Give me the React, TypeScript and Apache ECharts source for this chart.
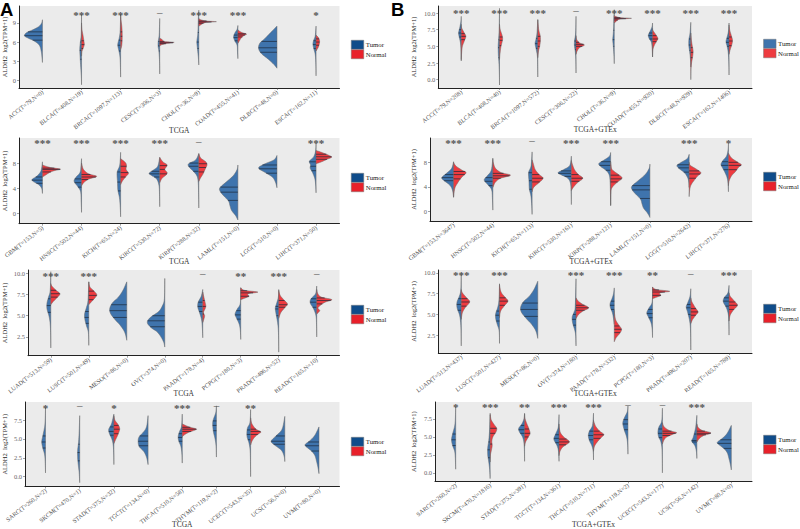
import React, { useEffect, useRef } from "react";
import * as echarts from "echarts";

type Pt = [number, number];
type Violin = { q: number[]; v: Pt[] } | null;

const FONT = "Liberation Serif";
const TUMOR_FILL = "#3f74ad";
const NORMAL_FILL = "#ee3b40";

// ---------- A1 TCGA ----------
const a1Cats = ["ACC(T=79,N=0)", "BLCA(T=408,N=19)", "BRCA(T=1097,N=113)", "CESC(T=306,N=3)", "CHOL(T=36,N=9)", "COAD(T=455,N=41)", "DLBC(T=48,N=0)", "ESCA(T=162,N=11)"];
const a1Sig = ["", "***", "***", "–", "***", "***", "", "*"];
const a1Ticks = ["0", "3", "6", "9"];
const a1T: Violin[] = [
  { q: [7.6, 7.0, 6.3], v: [[2.8, 0], [3.5, 1], [4.5, 3], [5.5, 8], [6.2, 22], [6.6, 36], [7, 46], [7.5, 40], [8, 22], [8.5, 8], [9, 2], [9.5, 0]] },
  { q: [6, 4.7, 3.3], v: [[-0.7, 0], [0.5, 0.5], [1.5, 1.5], [3, 3], [4, 4], [5, 4.5], [6, 3], [7, 1], [8.5, 0.4], [10.4, 0]] },
  { q: [6.3, 5.5, 4.6], v: [[0.5, 0], [2, 0.5], [3.5, 1.5], [4.5, 4], [5.3, 7], [5.8, 7], [6.5, 4], [7.5, 1.5], [9, 0.5], [10.4, 0]] },
  { q: [6.1, 5.4, 4.6], v: [[1, 0], [3, 0.5], [4.5, 2], [5.3, 4], [6, 4], [7, 1.5], [8.5, 0.5], [9.7, 0]] },
  { q: [7.5, 6, 5], v: [[2.4, 0], [3.5, 1], [5, 3.5], [6, 5], [7, 3], [8, 2], [9, 1.5], [10, 1], [11, 0]] },
  { q: [7.1, 6.7, 6.2], v: [[3.4, 0], [4.5, 1], [5.5, 2], [6.2, 8], [6.8, 11], [7.4, 8], [8, 2], [8.6, 0]] },
  { q: [6.1, 5.1, 4.4], v: [[1.9, 0], [2.5, 8], [3.4, 24], [4.2, 40], [5, 47], [5.8, 44], [6.5, 32], [7.5, 16], [8.5, 0]] },
  { q: [6.2, 5.6, 5], v: [[0.7, 0], [2.5, 0.5], [4, 2], [5, 6], [5.7, 8], [6.3, 6], [7, 2], [8.5, 0]] },
];
const a1N: Violin[] = [
  null,
  { q: [6.2, 5.6, 5], v: [[3.8, 0], [4.5, 1], [5, 4], [5.6, 7], [6.2, 6], [7, 4], [8, 1], [9, 0]] },
  { q: [7.6, 6.9, 6.2], v: [[4.8, 0], [5.5, 3], [6.5, 4], [7.5, 4], [8.5, 3], [9.5, 1], [10.4, 0]] },
  { q: [6.1, 5.9, 5.75], v: [[5.4, 0], [5.6, 6], [5.8, 20], [5.95, 37], [6.1, 12], [6.4, 6], [6.6, 0]] },
  { q: [9.3, 9.15, 8.95], v: [[8.5, 0], [8.7, 5], [8.9, 10], [9.1, 20], [9.2, 45], [9.3, 20], [9.5, 5], [9.7, 0]] },
  { q: [7.3, 7.1, 6.8], v: [[5.8, 0], [6.2, 4], [6.6, 8], [7, 15], [7.25, 22], [7.5, 10], [7.9, 0]] },
  null,
  { q: [6.5, 6, 5.5], v: [[4.6, 0], [5.1, 5], [5.6, 8], [6.2, 9], [6.7, 6], [7.1, 0]] },
];

// ---------- A2 TCGA ----------
const a2Cats = ["GBM(T=153,N=5)", "HNSC(T=502,N=44)", "KICH(T=65,N=24)", "KIRC(T=530,N=72)", "KIRP(T=288,N=32)", "LAML(T=151,N=0)", "LGG(T=510,N=0)", "LIHC(T=371,N=50)"];
const a2Sig = ["***", "***", "***", "***", "–", "", "", "***"];
const a2Ticks = ["0", "4", "8"];
const a2T: Violin[] = [
  { q: [5.8, 5.3, 4.8], v: [[3.2, 0], [4, 2], [4.6, 10], [5.3, 27], [5.9, 15], [6.6, 5], [7.4, 1.5], [8.2, 0]] },
  { q: [5.5, 4.9, 4.2], v: [[0.2, 0], [2, 1], [3.5, 2.5], [4.3, 10], [5.1, 19], [5.7, 15], [6.5, 4], [7.5, 1.5], [8.7, 0]] },
  { q: [6.6, 5, 3.6], v: [[-0.5, 0], [1, 1], [2.5, 3], [3.7, 7], [5, 8], [6.5, 9], [7.5, 3], [8.5, 1], [9.7, 0]] },
  { q: [6.7, 6.3, 5.8], v: [[1.1, 0], [3, 0.5], [4.5, 2], [5.5, 8], [6, 20], [6.4, 27], [6.9, 16], [7.5, 5], [8.9, 0]] },
  { q: [8, 7.5, 6.7], v: [[0.9, 0], [3, 0.5], [5, 1.5], [6, 5], [6.7, 14], [7.4, 25], [7.9, 26], [8.5, 8], [9.5, 0]] },
  { q: [4.2, 3.4, 2.1], v: [[-1, 0], [-0.3, 6], [0.5, 16], [1.2, 20], [2, 24], [2.8, 36], [3.5, 45], [4.1, 46], [5, 30], [6, 12], [7, 2], [7.7, 0]] },
  { q: [7.7, 7.1, 6.4], v: [[4.1, 0], [5, 4], [5.8, 12], [6.5, 30], [7.2, 47], [7.8, 34], [8.5, 8], [9.2, 0]] },
  { q: [8.2, 7.5, 6.8], v: [[3.3, 0], [4.5, 1], [5.5, 3], [6.5, 9], [7.2, 15], [7.7, 14], [8.3, 17], [9, 6], [10, 1], [11.2, 0]] },
];
const a2N: Violin[] = [
  { q: [7.2, 7, 6.6], v: [[5.8, 0], [6.1, 8], [6.5, 18], [6.8, 30], [7.05, 46], [7.3, 20], [7.7, 0]] },
  { q: [6.2, 5.8, 5.4], v: [[4.4, 0], [5, 7], [5.5, 20], [5.9, 39], [6.3, 18], [7, 5], [8, 0]] },
  { q: [7.5, 6.5, 5.8], v: [[4.6, 0], [5.2, 5], [5.9, 14], [6.4, 20], [7, 14], [7.6, 15], [8.1, 12], [8.7, 0]] },
  { q: [7.6, 7, 6.3], v: [[4.9, 0], [5.6, 6], [6.1, 16], [6.5, 19], [7, 13], [7.7, 19], [8.2, 8], [8.9, 0]] },
  { q: [7.9, 7.3, 6.6], v: [[5.1, 0], [5.7, 5], [6.3, 11], [7, 16], [7.7, 21], [8.2, 18], [8.8, 5], [9.5, 0]] },
  null,
  null,
  { q: [9.4, 9, 8.6], v: [[7.9, 0], [8.2, 14], [8.6, 28], [8.95, 40], [9.3, 30], [9.7, 14], [10, 0]] },
];

// ---------- A3 TCGA ----------
const a3Cats = ["LUAD(T=513,N=59)", "LUSC(T=501,N=49)", "MESO(T=86,N=0)", "OV(T=374,N=0)", "PAAD(T=178,N=4)", "PCPG(T=180,N=3)", "PRAD(T=496,N=52)", "READ(T=165,N=10)"];
const a3Sig = ["***", "***", "", "", "–", "**", "***", "–"];
const a3Ticks = ["2.5", "5.0", "7.5", "10.0"];
const a3T: Violin[] = [
  { q: [7, 6.2, 5.4], v: [[1.2, 0], [3, 0.5], [4.2, 2], [5, 5], [5.8, 10], [6.5, 10], [7.2, 6], [8, 1.5], [10.2, 0]] },
  { q: [5.5, 4.8, 4.1], v: [[1.5, 0], [3, 1], [3.8, 6], [4.5, 10], [5.2, 11], [6, 6], [6.8, 2], [9, 0]] },
  { q: [6.3, 5.6, 4.8], v: [[2.1, 0], [3, 5], [3.8, 16], [4.5, 30], [5.2, 42], [5.8, 45], [6.5, 38], [7.2, 22], [8, 10], [9, 0]] },
  { q: [5, 4.4, 3.7], v: [[1.3, 0], [2, 4], [3, 18], [3.6, 36], [4.2, 46], [4.8, 38], [5.5, 16], [6.2, 6], [7, 1], [9.4, 0]] },
  { q: [6.6, 6.1, 5.5], v: [[2.4, 0], [3.5, 1], [4.5, 3], [5.3, 8], [6, 13], [6.6, 12], [7.3, 4], [8.1, 0]] },
  { q: [5.6, 5.1, 4.6], v: [[2.2, 0], [3.2, 1], [4, 4], [4.7, 11], [5.2, 15], [5.8, 9], [6.5, 1], [8.3, 0]] },
  { q: [6.1, 5.8, 5], v: [[0.7, 0], [3, 0.7], [4.2, 3], [5.2, 7], [5.9, 9], [6.4, 6], [7.2, 1], [8.1, 0]] },
  { q: [7, 6.6, 6], v: [[2.5, 0], [4, 0.5], [5, 2], [5.8, 8], [6.5, 17], [7, 15], [7.6, 3], [8.5, 0]] },
];
const a3N: Violin[] = [
  { q: [8, 7.6, 7.2], v: [[6.3, 0], [6.7, 7], [7.2, 18], [7.6, 24], [8, 14], [8.5, 3], [8.8, 0]] },
  { q: [7.9, 7.4, 6.9], v: [[6.3, 0], [6.7, 8], [7.2, 18], [7.5, 21], [7.9, 14], [8.4, 3], [9, 0]] },
  null,
  null,
  { q: [6.8, 6.1, 5.2], v: [[4.2, 0], [4.6, 3], [5, 5], [5.4, 2], [5.9, 7], [6.2, 8], [6.8, 5], [7.8, 0]] },
  { q: [7.95, 7.7, 7.3], v: [[6.9, 0], [7.1, 12], [7.3, 22], [7.5, 18], [7.65, 24], [7.8, 45], [8, 10], [8.3, 0]] },
  { q: [6.8, 6.3, 6], v: [[4.7, 0], [5.4, 6], [6, 17], [6.4, 23], [6.9, 13], [7.4, 4], [8, 0]] },
  { q: [7.1, 6.8, 6.4], v: [[5.2, 0], [5.6, 8], [5.9, 3], [6.2, 9], [6.6, 22], [6.9, 40], [7.2, 12], [7.6, 3], [8.1, 0]] },
];

// ---------- A4 TCGA ----------
const a4Cats = ["SARC(T=260,N=2)", "SKCM(T=470,N=1)", "STAD(T=375,N=32)", "TGCT(T=134,N=0)", "THCA(T=510,N=58)", "THYM(T=119,N=2)", "UCEC(T=543,N=35)", "UCS(T=56,N=0)", "UVM(T=80,N=0)"];
const a4Sig = ["*", "–", "*", "", "***", "–", "**", "", ""];
const a4Ticks = ["0.0", "2.5", "5.0", "7.5"];
const a4T: Violin[] = [
  { q: [5.4, 4.6, 3.8], v: [[0.5, 0], [2, 1], [3, 3], [3.8, 8], [4.6, 11], [5.4, 8], [6.5, 3], [7.5, 1], [9.2, 0]] },
  { q: [4.3, 3.2, 2.1], v: [[-0.8, 0], [0.5, 1.5], [1.5, 4], [2.5, 6], [3.5, 6], [4.5, 3.5], [6, 1.5], [8.1, 0]] },
  { q: [6.6, 6, 5.5], v: [[1.6, 0], [3, 0.5], [4.2, 2], [5, 6], [5.7, 13], [6.3, 15], [7, 7], [8.3, 0]] },
  { q: [5.4, 4.7, 4.1], v: [[1.6, 0], [2.5, 4], [3.3, 12], [4, 26], [4.7, 29], [5.3, 26], [6, 12], [6.7, 4], [8.1, 0]] },
  { q: [5.7, 5.2, 4.7], v: [[1.8, 0], [3, 1], [4, 4], [4.7, 10], [5.3, 12], [6, 8], [6.7, 2], [8.3, 0]] },
  { q: [7.4, 6.8, 6.1], v: [[2.6, 0], [4, 1], [5, 4], [6, 9], [7, 11], [7.6, 9], [8.5, 2], [9.4, 0]] },
  { q: [6.2, 5.6, 4.9], v: [[0, 0], [2, 0.5], [3.5, 1.5], [4.5, 5], [5.2, 10], [5.8, 11], [6.5, 9], [7.2, 2], [8.9, 0]] },
  { q: [5.4, 4.7, 4.3], v: [[2, 0], [2.7, 2], [3.5, 10], [4.2, 30], [4.7, 40], [5.4, 26], [6.3, 8], [8, 0]] },
  { q: [4.6, 4.1, 3.4], v: [[0.4, 0], [1.2, 3], [2, 7], [2.8, 12], [3.4, 22], [4, 38], [4.3, 40], [4.8, 26], [5.5, 12], [6.6, 0]] },
];
const a4N: Violin[] = [
  null,
  null,
  { q: [6.8, 6.3, 5.7], v: [[4.4, 0], [5, 6], [5.7, 13], [6.4, 17], [7, 11], [7.5, 3], [8.1, 0]] },
  null,
  { q: [6.55, 6.3, 6], v: [[5.3, 0], [5.6, 8], [5.9, 20], [6.2, 38], [6.35, 40], [6.6, 20], [7, 0]] },
  null,
  { q: [6.3, 6, 5.6], v: [[4.2, 0], [4.8, 5], [5.3, 13], [5.7, 24], [5.95, 30], [6.3, 16], [7, 4], [7.8, 0]] },
  null,
  null,
];

// ---------- B1 TCGA+GTEx ----------
const b1Cats = ["ACC(T=79,N=208)", "BLCA(T=408,N=40)", "BRCA(T=1097,N=572)", "CESC(T=306,N=22)", "CHOL(T=36,N=9)", "COAD(T=455,N=920)", "DLBC(T=48,N=929)", "ESCA(T=162,N=1406)"];
const b1Sig = ["***", "***", "***", "–", "***", "***", "***", "***"];
const b1Ticks = ["0.0", "2.5", "5.0", "7.5", "10.0"];
const b1T: Violin[] = [
  { q: [7.5, 7, 6.4], v: [[3, 0], [4.5, 0.5], [5.5, 2], [6.3, 5], [7, 7], [7.8, 4], [8.7, 1], [9.5, 0]] },
  { q: [6, 4.8, 3.3], v: [[-0.8, 0], [1, 0.5], [2.5, 1.5], [3.7, 3], [5, 3.5], [6, 2.5], [7.5, 1], [10.7, 0]] },
  { q: [6.2, 5.4, 4.7], v: [[0.4, 0], [2, 0.4], [3.5, 1], [4.5, 4], [5.4, 7], [6, 5], [7, 2], [9, 0]] },
  { q: [5.8, 5.2, 4.5], v: [[1, 0], [3, 0.5], [4.2, 2], [5, 4], [5.8, 4], [7, 1], [9.5, 0]] },
  { q: [7.4, 6, 5], v: [[2.4, 0], [3.5, 0.7], [5, 2.5], [6, 4], [7, 2.5], [8.2, 1.5], [9.3, 1], [10.5, 0]] },
  { q: [7, 6.6, 6.1], v: [[3.4, 0], [4.7, 1], [5.6, 3], [6.2, 9], [6.7, 11], [7.2, 7], [7.9, 1.5], [8.5, 0]] },
  { q: [6.1, 5.2, 4.4], v: [[1.9, 0], [3, 0.8], [4.2, 3], [5, 5], [6, 5], [7, 2], [8.6, 0]] },
  { q: [6.2, 5.6, 5], v: [[0.7, 0], [2.5, 0.5], [4, 2], [5, 5], [5.7, 8], [6.4, 5], [7.3, 1.5], [8.5, 0]] },
];
const b1N: Violin[] = [
  { q: [6.9, 6.5, 6], v: [[2.8, 0], [4, 1], [5, 3], [5.8, 8], [6.5, 12], [7.1, 7], [7.8, 1], [8.3, 0]] },
  { q: [6.4, 5.9, 5.1], v: [[3, 0], [4, 1.5], [5, 4], [6, 8], [6.6, 7], [7.5, 2], [8.3, 0]] },
  { q: [6.5, 5.8, 5], v: [[3.3, 0], [4.3, 2], [5, 5], [6, 7], [6.7, 6], [7.5, 2.5], [9, 0]] },
  { q: [5.6, 5.3, 5], v: [[3.8, 0], [4.3, 3], [4.8, 9], [5.2, 22], [5.5, 10], [6, 2], [6.6, 0]] },
  { q: [9.3, 9.15, 8.95], v: [[8.5, 0], [8.7, 4], [8.9, 8], [9.1, 16], [9.2, 45], [9.3, 16], [9.5, 3], [9.6, 0]] },
  { q: [6.6, 6.1, 5.7], v: [[3.4, 0], [4.5, 1], [5.2, 5], [5.8, 11], [6.2, 14], [6.8, 8], [7.4, 1], [7.7, 0]] },
  { q: [4.8, 4.1, 3.3], v: [[0, 0], [1.5, 0.5], [2.5, 2], [3.5, 5], [4.3, 6], [5.2, 3.5], [6, 1.5], [7, 0]] },
  { q: [6.4, 5.8, 5.1], v: [[3.8, 0], [4.5, 3], [5.2, 7], [5.9, 9], [6.6, 6], [7.4, 2], [8.2, 0]] },
];

// ---------- B2 TCGA+GTEx ----------
const b2Cats = ["GBM(T=153,N=3647)", "HNSC(T=502,N=44)", "KICH(T=65,N=113)", "KIRC(T=530,N=161)", "KIRP(T=288,N=121)", "LAML(T=151,N=0)", "LGG(T=510,N=2642)", "LIHC(T=371,N=276)"];
const b2Sig = ["***", "***", "–", "***", "***", "", "***", "*"];
const b2Ticks = ["0", "4", "8"];
const b2T: Violin[] = [
  { q: [6, 5.5, 5], v: [[2.3, 0], [3.5, 3], [4.3, 10], [5, 24], [5.5, 30], [6.2, 18], [7, 5], [8.1, 0]] },
  { q: [5.5, 4.9, 4.2], v: [[0.2, 0], [2, 1], [3.5, 3], [4.3, 12], [5.1, 22], [5.8, 14], [6.7, 4], [8.7, 0]] },
  { q: [6.3, 5, 3.6], v: [[-0.5, 0], [1, 1], [2.5, 3], [3.6, 7], [5, 8], [6.3, 9], [7.3, 3], [8.5, 1], [9.7, 0]] },
  { q: [6.6, 6.2, 5.7], v: [[1.1, 0], [3, 0.5], [4.5, 2], [5.4, 9], [5.9, 24], [6.3, 34], [6.8, 20], [7.5, 4], [9, 0]] },
  { q: [8.1, 7.5, 6.7], v: [[0.9, 0], [3, 0.5], [5, 1.5], [6, 4], [6.7, 12], [7.3, 25], [7.8, 30], [8.4, 16], [9, 3], [9.6, 0]] },
  { q: [4.2, 3.5, 2.1], v: [[-1, 0], [-0.3, 6], [0.5, 16], [1.2, 20], [2, 24], [2.8, 36], [3.5, 45], [4.1, 46], [5, 30], [6, 12], [7, 2], [7.7, 0]] },
  { q: [7.6, 7.1, 6.4], v: [[3.9, 0], [4.8, 1], [5.5, 4], [6.3, 12], [7, 26], [7.5, 31], [8, 20], [8.6, 5], [9.3, 0]] },
  { q: [8.1, 7.5, 6.8], v: [[3.2, 0], [4.5, 1], [5.5, 3.5], [6.5, 10], [7.2, 16], [7.7, 19], [8.3, 14], [9, 5], [10, 1], [11, 0]] },
];
const b2N: Violin[] = [
  { q: [6.5, 6, 5.3], v: [[2.3, 0], [3.7, 3], [4.6, 10], [5.5, 20], [6.3, 32], [6.7, 22], [7.4, 6], [8, 0]] },
  { q: [6.2, 5.8, 5.4], v: [[3.9, 0], [4.8, 7], [5.4, 20], [5.9, 45], [6.3, 22], [7, 7], [8, 1], [8.5, 0]] },
  { q: [6, 5.4, 4.8], v: [[3.2, 0], [3.9, 4], [4.6, 16], [5.4, 28], [6, 18], [6.8, 8], [7.8, 3], [8.4, 0]] },
  { q: [6, 5.4, 4.9], v: [[3.4, 0], [4, 6], [4.7, 16], [5.4, 29], [6, 18], [6.8, 8], [7.8, 2], [8.3, 0]] },
  { q: [5.9, 5.3, 4.8], v: [[1, 0], [3, 0.7], [3.8, 3], [4.6, 14], [5.4, 29], [6, 20], [6.8, 4], [7.6, 1], [8.1, 0]] },
  null,
  { q: [6.6, 6.1, 5.4], v: [[2.4, 0], [3.3, 1], [4.2, 4], [5, 12], [5.8, 22], [6.3, 30], [6.9, 18], [7.5, 3], [8, 0]] },
  { q: [8, 7.5, 6.8], v: [[4.2, 0], [5, 2], [5.8, 8], [6.5, 18], [7.2, 26], [7.6, 33], [8, 24], [8.7, 8], [9.5, 0]] },
];

// ---------- B3 TCGA+GTEx ----------
const b3Cats = ["LUAD(T=513,N=437)", "LUSC(T=501,N=427)", "MESO(T=86,N=0)", "OV(T=374,N=180)", "PAAD(T=178,N=332)", "PCPG(T=180,N=3)", "PRAD(T=496,N=207)", "READ(T=165,N=789)"];
const b3Sig = ["***", "***", "", "***", "***", "**", "–", "***"];
const b3Ticks = ["2.5", "5.0", "7.5", "10.0"];
const b3T: Violin[] = [
  { q: [6.9, 6.2, 5.5], v: [[1.2, 0], [3, 0.5], [4.2, 2], [5, 5], [5.8, 11], [6.5, 11], [7.2, 5], [8, 1], [10, 0]] },
  { q: [5.4, 4.9, 4.2], v: [[1.5, 0], [3, 1], [3.8, 6], [4.5, 10], [5.1, 10], [5.8, 5], [6.7, 1.5], [8.7, 0]] },
  { q: [6.37, 5.6, 4.76], v: [[2.1, 0], [3, 5], [3.8, 16], [4.5, 30], [5.2, 42], [5.8, 45], [6.5, 38], [7.2, 22], [8, 10], [9, 0]] },
  { q: [5, 4.4, 3.7], v: [[1.2, 0], [2.5, 1], [3.2, 4], [4, 9], [4.7, 10], [5.3, 5], [6, 2], [9.3, 0]] },
  { q: [6.6, 6.1, 5.6], v: [[3.8, 0], [4.5, 2], [5.2, 5], [5.8, 10], [6.3, 11], [6.9, 6], [7.5, 2], [8.2, 0]] },
  { q: [5.6, 5.1, 4.6], v: [[2.2, 0], [3.2, 1], [4, 4], [4.7, 11], [5.2, 15], [5.8, 9], [6.5, 1], [8.3, 0]] },
  { q: [6.2, 5.8, 5], v: [[0.7, 0], [3, 0.7], [4.2, 3], [5.2, 8], [5.9, 12], [6.4, 8], [7.2, 2], [8.1, 0]] },
  { q: [7, 6.6, 6], v: [[2.5, 0], [4, 0.5], [5, 2], [5.8, 7], [6.5, 15], [7, 13], [7.6, 3], [8.5, 0]] },
];
const b3N: Violin[] = [
  { q: [6.9, 6.5, 6], v: [[4.4, 0], [5.2, 3], [5.8, 10], [6.5, 22], [7, 14], [7.6, 3], [8, 0]] },
  { q: [7, 6.6, 6.1], v: [[4.6, 0], [5.4, 3], [6, 12], [6.6, 22], [7.1, 14], [7.7, 4], [8.6, 0]] },
  null,
  { q: [6.1, 5.8, 5.5], v: [[4.5, 0], [5, 7], [5.4, 18], [5.8, 33], [6.2, 18], [6.6, 6], [7, 0]] },
  { q: [3.6, 3.2, 2.8], v: [[1.7, 0], [2.2, 5], [2.7, 14], [3.2, 19], [3.7, 12], [4.3, 4], [5, 1], [5.5, 0]] },
  { q: [7.95, 7.7, 7.3], v: [[6.9, 0], [7.1, 12], [7.3, 22], [7.5, 18], [7.65, 24], [7.8, 45], [8, 10], [8.3, 0]] },
  { q: [5.7, 5.3, 4.9], v: [[3.9, 0], [4.4, 5], [4.9, 13], [5.3, 19], [5.8, 12], [6.5, 3], [7, 0]] },
  { q: [6.5, 6.1, 5.6], v: [[4.2, 0], [4.9, 3], [5.5, 11], [6.1, 22], [6.6, 14], [7.2, 3], [7.6, 0]] },
];

// ---------- B4 TCGA+GTEx ----------
const b4Cats = ["SARC(T=260,N=2)", "SKCM(T=470,N=1816)", "STAD(T=375,N=391)", "TGCT(T=134,N=361)", "THCA(T=510,N=711)", "THYM(T=119,N=2)", "UCEC(T=543,N=177)", "UCS(T=56,N=142)", "UVM(T=80,N=0)"];
const b4Sig = ["*", "***", "**", "***", "***", "–", "–", "***", ""];
const b4Ticks = ["0.0", "2.5", "5.0", "7.5"];
const b4T: Violin[] = [
  { q: [5.4, 4.6, 3.8], v: [[0.5, 0], [2, 1], [3, 3], [3.8, 9], [4.6, 12], [5.4, 9], [6.5, 3], [7.5, 1], [9.2, 0]] },
  { q: [4.3, 3.2, 2.1], v: [[-0.8, 0], [0.5, 1.5], [1.5, 4], [2.5, 7], [3.5, 7], [4.5, 4], [6, 1.5], [8.1, 0]] },
  { q: [6.6, 6, 5.5], v: [[1.6, 0], [3, 0.5], [4.2, 2], [5, 6], [5.7, 15], [6.2, 17], [6.8, 8], [7.5, 2], [8.3, 0]] },
  { q: [5.3, 4.8, 4.2], v: [[1.6, 0], [3, 1.5], [3.8, 6], [4.4, 13], [4.8, 15], [5.4, 10], [6.2, 3], [7, 1], [8.1, 0]] },
  { q: [5.8, 5.2, 4.6], v: [[1.8, 0], [3, 1], [3.8, 5], [4.5, 12], [5.2, 15], [5.8, 12], [6.6, 3], [8.3, 0]] },
  { q: [7.4, 6.8, 6], v: [[2.6, 0], [4, 1], [5, 4], [6, 11], [6.9, 15], [7.6, 11], [8.5, 2], [9.3, 0]] },
  { q: [6.1, 5.5, 4.9], v: [[0, 0], [2, 0.4], [3.5, 1.5], [4.4, 5], [5, 11], [5.7, 13], [6.4, 10], [7.2, 2], [9, 0]] },
  { q: [5.4, 4.5, 4.3], v: [[2, 0], [3, 1.5], [3.8, 6], [4.4, 15], [4.9, 11], [5.6, 7], [6.5, 3], [8, 0]] },
  { q: [4.6, 4.1, 3.4], v: [[0.4, 0], [1.2, 3], [2, 7], [2.8, 12], [3.4, 22], [4, 38], [4.3, 40], [4.8, 26], [5.5, 12], [6.6, 0]] },
];
const b4N: Violin[] = [
  null,
  { q: [6.2, 5.5, 4], v: [[1.5, 0], [2.5, 1], [3.2, 4], [3.8, 6], [4.4, 5], [5, 8], [5.7, 17], [6.2, 19], [6.7, 12], [7.4, 3], [8.3, 0]] },
  { q: [6.1, 5.5, 5], v: [[3.7, 0], [4.3, 3], [5, 11], [5.5, 16], [6.2, 12], [6.9, 6], [7.6, 1], [8.2, 0]] },
  { q: [4.7, 4.3, 3.9], v: [[2.4, 0], [3, 3], [3.6, 11], [4.3, 30], [4.9, 16], [5.5, 5], [6.2, 1], [6.8, 0]] },
  { q: [5.8, 5.3, 4.8], v: [[3, 0], [3.7, 3], [4.3, 11], [4.9, 22], [5.35, 30], [5.8, 18], [6.5, 6], [7.3, 0]] },
  null,
  { q: [5.8, 5.5, 5.2], v: [[4, 0], [4.6, 5], [5, 13], [5.4, 32], [5.6, 41], [5.9, 20], [6.4, 5], [7, 0]] },
  { q: [5.8, 5.5, 5.3], v: [[4.3, 0], [4.8, 8], [5.2, 20], [5.55, 41], [5.9, 16], [6.3, 4], [6.8, 0]] },
  null,
];

// Panel layout: plot box in pixels, y-range of the scale, star height, legend box, etc.
const panels = [
  { cats: a1Cats, sig: a1Sig, ticks: a1Ticks, t: a1T, n: a1N, title: "TCGA", box: [17.5, 6, 339.5, 88], y: [-1.21, 11.66], sigY: 10.7, gap: 38, yGap: 11, leg: [351, 40], dark: true },
  { cats: a2Cats, sig: a2Sig, ticks: a2Ticks, t: a2T, n: a2N, title: "TCGA", box: [17.5, 138, 339.5, 223.7], y: [-1.59, 11.97], sigY: 11.5, gap: 34, yGap: 11, leg: [351, 173], dark: true },
  { cats: a3Cats, sig: a3Sig, ticks: a3Ticks, t: a3T, n: a3N, title: "TCGA", box: [26.4, 270, 339.5, 355.7], y: [0.28, 10.4], sigY: 10.0, gap: 33.5, yGap: 20, leg: [351, 305], dark: true },
  { cats: a4Cats, sig: a4Sig, ticks: a4Ticks, t: a4T, n: a4N, title: "TCGA", box: [22.7, 402, 339.5, 487.7], y: [-1.31, 9.91], sigY: 9.5, gap: 33.5, yGap: 17, leg: [351, 437], dark: true },
  { cats: b1Cats, sig: b1Sig, ticks: b1Ticks, t: b1T, n: b1N, title: "TCGA+GTEx", box: [438.3, 6, 752, 88], y: [-1.25, 11.05], sigY: 10.4, gap: 37, yGap: 21, leg: [763.3, 39], dark: false },
  { cats: b2Cats, sig: b2Sig, ticks: b2Ticks, t: b2T, n: b2N, title: "TCGA+GTEx", box: [430, 138, 752, 221], y: [-1.58, 11.97], sigY: 11.6, gap: 36.7, yGap: 13, leg: [763.3, 172], dark: true },
  { cats: b3Cats, sig: b3Sig, ticks: b3Ticks, t: b3T, n: b3N, title: "TCGA+GTEx", box: [438.3, 270, 752, 353], y: [0.34, 10.36], sigY: 10.0, gap: 36.7, yGap: 21, leg: [763.3, 304], dark: true },
  { cats: b4Cats, sig: b4Sig, ticks: b4Ticks, t: b4T, n: b4N, title: "TCGA+GTEx", box: [435, 402, 752, 483], y: [-1.18, 9.86], sigY: 9.55, gap: 38.7, yGap: 18, leg: [763.3, 435], dark: true },
];

// Smooth a [value, width] outline for drawing.
function smoothOutline(v: Pt[]): Pt[] {
  const out: Pt[] = [];
  for (let i = 0; i < v.length - 1; i++) {
    const p0 = v[Math.max(i - 1, 0)], p1 = v[i], p2 = v[i + 1], p3 = v[Math.min(i + 2, v.length - 1)];
    for (let k = 0; k < 6; k++) {
      const t = k / 6, t2 = t * t, t3 = t2 * t;
      const cr = (a: number, b: number, c: number, d: number) =>
        0.5 * (2 * b + (c - a) * t + (2 * a - 5 * b + 4 * c - d) * t2 + (3 * b - a - 3 * c + d) * t3);
      out.push([cr(p0[0], p1[0], p2[0], p3[0]), Math.max(0, cr(p0[1], p1[1], p2[1], p3[1]))]);
    }
  }
  out.push(v[v.length - 1]);
  return out;
}

function widthAt(s: Pt[], y: number): number {
  for (let i = 0; i < s.length - 1; i++) {
    if (s[i][0] <= y && y <= s[i + 1][0]) {
      const f = (y - s[i][0]) / (s[i + 1][0] - s[i][0] || 1);
      return s[i][1] + f * (s[i + 1][1] - s[i][1]);
    }
  }
  return 0;
}

function violinRenderer(list: Violin[], side: number, fill: string) {
  return (params: any, api: any) => {
    const item = list[params.dataIndex];
    if (!item) return { type: "group", children: [] };
    const cx = api.value(0);
    const s = smoothOutline(item.v);
    const pts = s.map(([y, w]) => api.coord([cx + (side * w) / 100, y]));
    pts.push(api.coord([cx, s[s.length - 1][0]]));
    pts.push(api.coord([cx, s[0][0]]));
    const lines = item.q.map((y) => {
      const a = api.coord([cx, y]);
      const b = api.coord([cx + (side * widthAt(s, y)) / 100, y]);
      return {
        type: "line",
        shape: { x1: a[0], y1: a[1], x2: b[0], y2: b[1] },
        style: { stroke: "#1c2a3a", lineWidth: 0.7, fill: "none" },
      };
    });
    return {
      type: "group",
      children: [
        { type: "polygon", shape: { points: pts }, style: { fill, stroke: "#666", lineWidth: 0.5 } },
        ...lines,
      ],
    };
  };
}

function sigRenderer(sig: string[], sigY: number) {
  return (params: any, api: any) => {
    const text = sig[params.dataIndex];
    if (!text) return { type: "group", children: [] };
    const p = api.coord([api.value(0), sigY]);
    const stars = text.includes("*");
    return {
      type: "text",
      x: p[0],
      y: p[1] + (stars ? 2.5 : 0),
      style: { text, fontFamily: FONT, fontSize: 11, fontWeight: stars ? "bold" : "normal", fill: "#555", align: "center", verticalAlign: "middle" },
    };
  };
}

function buildOption() {
  const grid: any[] = [], xAxis: any[] = [], yAxis: any[] = [], series: any[] = [], legend: any[] = [];
  panels.forEach((p, i) => {
    const [x0, y0, x1, y1] = p.box;
    grid.push({
      left: x0, top: y0, width: x1 - x0, height: y1 - y0, show: true,
      backgroundColor: "#ebebeb", borderWidth: 0, containLabel: false,
    });
    const xs = p.cats.map((_, k) => k + 1);
    xAxis.push({
      type: "value", gridIndex: i, min: 0.4, max: p.cats.length + 0.6,
      name: p.title, nameLocation: "middle", nameGap: p.gap, nameMoveOverlap: false,
      nameTextStyle: { fontFamily: FONT, fontSize: 7.5, color: "#333" },
      axisLine: { show: true, onZero: false, lineStyle: { color: "#222", width: 1 } },
      axisTick: { show: true, length: 2, customValues: xs, lineStyle: { color: "#444", width: 0.5 } },
      splitLine: { show: false },
      axisLabel: {
        customValues: xs, rotate: 38, margin: 3, fontFamily: FONT, fontSize: 6.2, color: "#4d4d4d",
        hideOverlap: false, showMinLabel: true, showMaxLabel: true,
        formatter: (v: number) => p.cats[Math.round(v) - 1] ?? "",
      },
    });
    const tv = p.ticks.map(Number);
    yAxis.push({
      type: "value", gridIndex: i, min: p.y[0], max: p.y[1],
      name: "ALDH2  log2(TPM+1)", nameLocation: "middle", nameGap: p.yGap, nameMoveOverlap: false,
      nameTextStyle: { fontFamily: FONT, fontSize: 6.5, color: "#222" },
      axisLine: { show: true, onZero: false, lineStyle: { color: "#222", width: 1 } },
      axisTick: { show: true, length: 2, customValues: tv, lineStyle: { color: "#444", width: 0.5 } },
      splitLine: { show: false },
      axisLabel: {
        customValues: tv, margin: 3, fontFamily: FONT, fontSize: 6.5, color: "#666",
        formatter: (v: number) => p.ticks[tv.indexOf(v)] ?? "",
      },
    });
    const base = { type: "custom", xAxisIndex: i, yAxisIndex: i, coordinateSystem: "cartesian2d", clip: false, silent: true, encode: { x: 0, y: 1 } };
    series.push({
      ...base, name: "Tumor", itemStyle: { color: TUMOR_FILL },
      data: p.t.map((d, k) => [k + 1, d ? d.q[1] : 0]),
      renderItem: violinRenderer(p.t, -1, TUMOR_FILL),
    });
    series.push({
      ...base, name: "Normal", itemStyle: { color: NORMAL_FILL },
      data: p.n.map((d, k) => [k + 1, d ? d.q[1] : 0]),
      renderItem: violinRenderer(p.n, 1, NORMAL_FILL),
    });
    series.push({
      ...base, name: "sig",
      data: p.sig.map((_, k) => [k + 1, p.sigY]),
      renderItem: sigRenderer(p.sig, p.sigY),
    });
    legend.push({
      left: p.leg[0], top: p.leg[1], orient: "vertical", padding: 0, itemGap: 0, itemWidth: 12.5, itemHeight: 9,
      selectedMode: false, icon: "rect",
      textStyle: { fontFamily: FONT, fontSize: 6.8, color: "#222", padding: [0, 0, 0, -3] },
      data: [
        { name: "Tumor", itemStyle: { color: p.dark ? "#0f4c8a" : TUMOR_FILL, borderColor: "#777", borderWidth: 0.5 } },
        { name: "Normal", itemStyle: { color: p.dark ? "#e8202a" : NORMAL_FILL, borderColor: "#777", borderWidth: 0.5 } },
      ],
    });
  });
  return {
    animation: false,
    backgroundColor: "#ffffff",
    grid, xAxis, yAxis, series, legend,
    graphic: [
      { type: "text", x: 0, y: 0, style: { text: "A", fontFamily: "Liberation Sans", fontWeight: "bold", fontSize: 18.5, fill: "#000" } },
      { type: "text", x: 391, y: 0, style: { text: "B", fontFamily: "Liberation Sans", fontWeight: "bold", fontSize: 18.5, fill: "#000" } },
    ],
  };
}

export default function App() {
  const ref = useRef<HTMLDivElement>(null);
  useEffect(() => {
    document.body.style.margin = "0";
    const chart = echarts.init(ref.current as HTMLDivElement, null, { renderer: "svg" });
    chart.setOption(buildOption() as any);
    return () => chart.dispose();
  }, []);
  return <div ref={ref} style={{ width: 800, height: 529 }} />;
}
